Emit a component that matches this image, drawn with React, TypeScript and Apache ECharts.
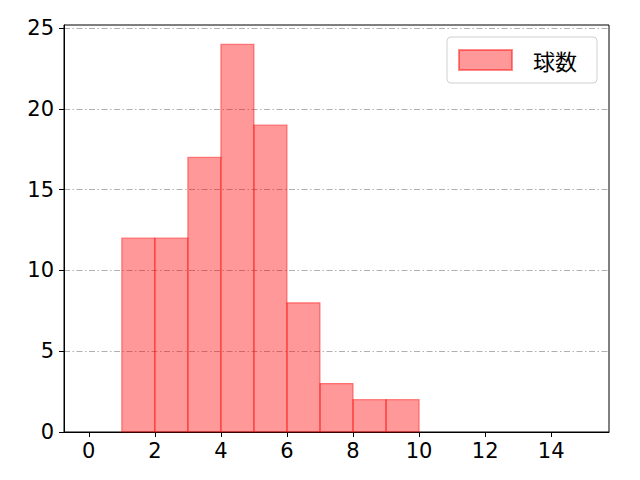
import { useEffect, useRef } from 'react';
import * as echarts from 'echarts';

// ─── Data ─────────────────────────────────────────────────────────────────────

const binStarts = [1, 2, 3, 4, 5, 6, 7, 8, 9];
const binEnds = [2, 3, 4, 5, 6, 7, 8, 9, 10];
const counts = [12, 12, 17, 24, 19, 8, 3, 2, 2];
const xTicks = [0, 2, 4, 6, 8, 10, 12, 14];
const yTicks = [0, 5, 10, 15, 20, 25];
const seriesName = '球数';

const FONT = "'Noto Sans CJK JP', 'Noto Sans', sans-serif";
const NUM_FONT = "'DejaVu Sans', sans-serif";
const FILL = 'rgba(255,0,0,0.4)';
const EDGE = 'rgba(255,0,0,0.45)';

function buildOption(): echarts.EChartsOption {
  const data = binStarts.map((s, i) => [s, binEnds[i], counts[i]]);

  return {
    animation: false,
    backgroundColor: '#fff',
    grid: {
      left: 64,
      right: 31,
      top: 25,
      bottom: 48,
      show: true,
      borderColor: '#000',
      borderWidth: 1,
      backgroundColor: 'transparent',
    },
    legend: {
      left: 447,
      top: 37,
      padding: [12, 20, 12, 11],
      borderColor: '#d0d0d0',
      borderWidth: 1,
      borderRadius: 4,
      backgroundColor: 'rgba(255,255,255,0.8)',
      itemWidth: 53,
      itemHeight: 20,
      data: [{ name: seriesName, icon: 'rect' }],
      textStyle: { fontFamily: FONT, fontSize: 22, color: '#000', padding: [0, 0, 0, 16] },
    },
    xAxis: {
      type: 'value',
      min: -0.75,
      max: 15.75,
      axisLine: { show: true, onZero: false, lineStyle: { color: '#000', width: 1 } },
      axisTick: { show: true, inside: false, length: 5, customValues: xTicks, lineStyle: { color: '#000' } },
      axisLabel: {
        customValues: xTicks,
        color: '#000',
        fontFamily: NUM_FONT,
        fontSize: 21,
        margin: 8,
      },
      splitLine: { show: false },
    },
    yAxis: {
      type: 'value',
      min: 0,
      max: 25.2,
      axisLine: { show: true, onZero: false, lineStyle: { color: '#000', width: 1 } },
      axisTick: { show: true, inside: false, length: 5, customValues: yTicks, lineStyle: { color: '#000' } },
      axisLabel: {
        customValues: yTicks,
        color: '#000',
        fontFamily: NUM_FONT,
        fontSize: 21,
        margin: 10,
      },
      splitLine: {
        show: true,
        lineStyle: { color: '#b0b0b0', width: 1, type: [6, 2.5, 1.5, 2.5] },
      },
    },
    series: [
      {
        name: seriesName,
        type: 'custom',
        itemStyle: { color: FILL, borderColor: EDGE, borderWidth: 1 },
        encode: { x: [0, 1], y: 2 },
        data,
        renderItem: (_params: unknown, api: any) => {
          const p0 = api.coord([api.value(0), api.value(2)]);
          const p1 = api.coord([api.value(1), 0]);
          return {
            type: 'rect',
            shape: { x: p0[0], y: p0[1], width: p1[0] - p0[0], height: p1[1] - p0[1] },
            style: { fill: FILL, stroke: EDGE, lineWidth: 1.2 },
          };
        },
      },
    ],
  };
}

export default function App() {
  const ref = useRef<HTMLDivElement>(null);

  useEffect(() => {
    if (!ref.current) return;
    const chart = echarts.init(ref.current, null, { renderer: 'svg' });
    chart.setOption(buildOption());
    return () => chart.dispose();
  }, []);

  return (
    <div
      ref={ref}
      style={{ position: 'absolute', left: 0, top: 0, width: 640, height: 480, background: '#fff' }}
    />
  );
}
